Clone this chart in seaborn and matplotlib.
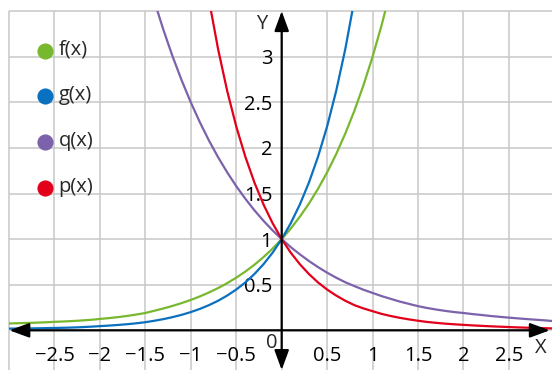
import numpy as np
import pandas as pd
import matplotlib
matplotlib.use("Agg")
import matplotlib.pyplot as plt
import seaborn as sns
from matplotlib.patches import Rectangle

nan = np.nan

# sample positions along the x axis (step 0.1)
x = np.round(np.arange(-3.0, 3.01, 0.1), 1)

# values (nan = off the chart)
f_vals = [0.075, 0.078, 0.081, 0.084, 0.088, 0.093, 0.097, 0.102, 0.108, 0.115,
          0.125, 0.134, 0.145, 0.158, 0.173, 0.190, 0.215, 0.240, 0.268, 0.299,
          0.333, 0.372, 0.415, 0.463, 0.517, 0.577, 0.644, 0.719, 0.803, 0.896,
          1.000, 1.116, 1.246, 1.390, 1.552, 1.732, 1.933, 2.158, 2.408, 2.688,
          3.000, 3.348, 3.737] + [nan] * 18

g_vals = [0.019, 0.020, 0.021, 0.022, 0.024, 0.026, 0.028, 0.031, 0.035, 0.040,
          0.046, 0.052, 0.059, 0.067, 0.077, 0.089, 0.105, 0.123, 0.145, 0.170,
          0.200, 0.235, 0.276, 0.324, 0.381, 0.447, 0.525, 0.617, 0.725, 0.851,
          1.000, 1.175, 1.380, 1.621, 1.904, 2.236, 2.627, 3.085, 3.624] + [nan] * 22

q_vals = [nan] * 16 + [3.607, 3.291, 3.003, 2.740,
          2.500, 2.281, 2.081, 1.899, 1.733, 1.581, 1.443, 1.316, 1.201, 1.096,
          1.000, 0.912, 0.833, 0.760, 0.693, 0.632, 0.577, 0.527, 0.485, 0.445,
          0.410, 0.375, 0.345, 0.315, 0.290, 0.265, 0.245, 0.228, 0.213, 0.200,
          0.190, 0.178, 0.168, 0.157, 0.148, 0.139, 0.131, 0.123, 0.116, 0.109,
          0.100]

p_vals = [nan] * 22 + [3.624, 3.085, 2.627, 2.236, 1.904, 1.621, 1.380, 1.175,
          1.000, 0.851, 0.725, 0.617, 0.525, 0.447, 0.381, 0.324, 0.276, 0.240,
          0.210, 0.180, 0.157, 0.137, 0.120, 0.105, 0.092, 0.082, 0.073, 0.066,
          0.060, 0.054, 0.049, 0.044, 0.040, 0.036, 0.032, 0.029, 0.026, 0.023,
          0.021]

names = ["f(x)", "g(x)", "q(x)", "p(x)"]
colors = ["#78b82e", "#0a70c0", "#7b62aa", "#e3001b"]

x_ticks = [-2.5, -2, -1.5, -1, -0.5, 0.5, 1, 1.5, 2, 2.5]
x_tick_labels = ["−2.5", "−2", "−1.5", "−1", "−0.5", "0.5", "1", "1.5", "2", "2.5"]
y_ticks = [0.5, 1, 1.5, 2, 2.5, 3]
y_tick_labels = ["0.5", "1", "1.5", "2", "2.5", "3"]

# long-form table for seaborn
df = pd.concat([
    pd.DataFrame({"x": x, "y": vals, "func": name})
    for name, vals in zip(names, [f_vals, g_vals, q_vals, p_vals])
]).dropna()

sns.set_style("white")
plt.rcParams["font.family"] = ["Open Sans", "DejaVu Sans"]
fs = 14.5

fig = plt.figure(figsize=(5.52, 3.70), dpi=100)
ax = fig.add_axes([0, 0, 1, 1])
ax.set_xlim(-3.099, 2.974)
ax.set_ylim(-0.435, 3.622)

# grid
grid_c = "#c8c8c8"
ax.vlines(np.arange(-3, 2.6, 0.5), -0.435, 3.5, color=grid_c, lw=1.1, zorder=0)
ax.hlines(np.arange(0, 3.6, 0.5), -3, 2.974, color=grid_c, lw=1.1, zorder=0)

# curves
sns.lineplot(data=df, x="x", y="y", hue="func", hue_order=names,
             palette=colors, estimator=None, sort=False, legend=False,
             lw=1.6, ax=ax, zorder=3)
clip = Rectangle((-3, -0.5), 6.2, 4.0, transform=ax.transData)
for line in ax.lines:
    line.set_clip_path(clip)

# axes with arrows
arrow = dict(arrowstyle="<|-|>,head_length=0.6,head_width=0.22",
             mutation_scale=20, lw=1.6, color="black",
             shrinkA=0, shrinkB=0)
ax.annotate("", xy=(2.95, 0), xytext=(-2.996, 0), arrowprops=arrow, zorder=4)
ax.annotate("", xy=(0, 3.5), xytext=(0, -0.435), arrowprops=arrow, zorder=4)

# ticks on the axes
for side in ["top", "right"]:
    ax.spines[side].set_visible(False)
for side in ["bottom", "left"]:
    ax.spines[side].set_position(("data", 0))
    ax.spines[side].set_color("none")

ax.set_xticks(x_ticks)
ax.set_xticklabels(x_tick_labels)
ax.set_yticks(y_ticks)
ax.set_yticklabels(y_tick_labels)
ax.tick_params(axis="x", direction="in", length=6, width=1.3, pad=11,
               labelsize=fs, colors="black")
ax.tick_params(axis="y", direction="inout", length=8.6, width=1.3, pad=2.5,
               labelsize=fs, colors="black")
ax.set_xlabel("")
ax.set_ylabel("")

ax.text(-0.112, -0.139, "0", fontsize=fs, ha="center", va="center")
ax.text(2.847, -0.194, "X", fontsize=fs, ha="center", va="center")
ax.text(-0.219, 3.359, "Y", fontsize=fs, ha="center", va="center")

# legend
for i, (name, c) in enumerate(zip(names, colors)):
    ly = 3.065 - 0.5 * i
    ax.scatter([-2.601], [ly], s=135, color=c, zorder=5, linewidths=0)
    ax.text(-2.455, ly + 0.01, name, fontsize=fs, ha="left", va="center")

fig.savefig("out.png", dpi=100)
